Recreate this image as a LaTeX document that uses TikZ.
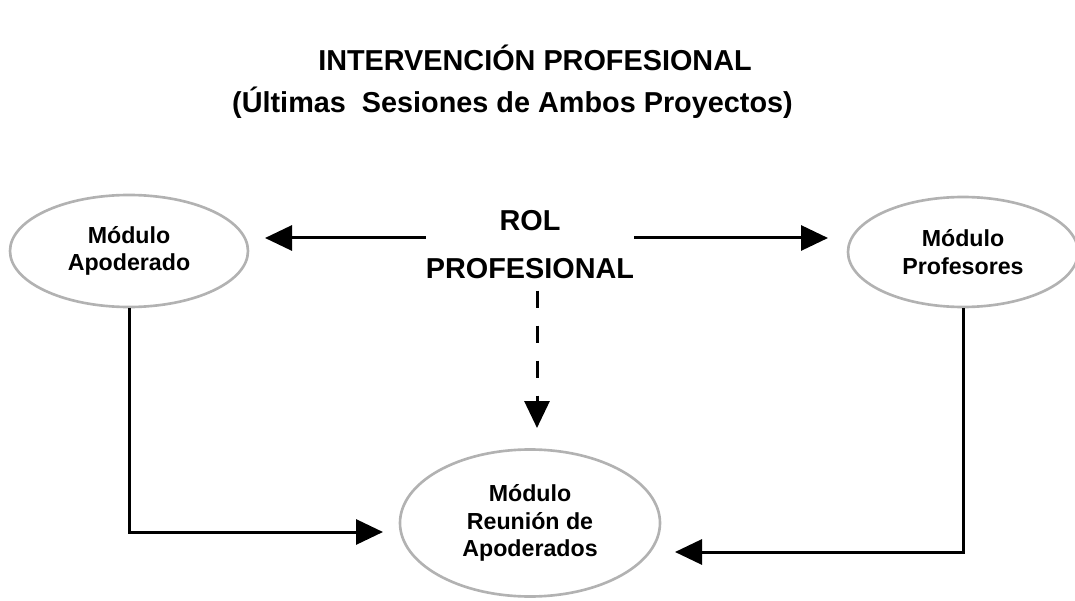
\documentclass[tikz,border=0pt]{standalone}
\usepackage{fontspec}
\setmainfont{Liberation Sans}
\usepackage{tikz}
\usetikzlibrary{positioning, shapes.geometric, arrows.meta, calc}

\begin{document}
\begin{tikzpicture}[
  >={Triangle[length=0.54cm, width=0.5cm]},
  every node/.style={font=\bfseries},
  modulo/.style={draw=gray!60, line width=1.5pt, ellipse, inner sep=0pt, align=center,
    font=\fontsize{13.2}{15.6}\selectfont\bfseries},
  flecha/.style={->, line width=0.06cm},
  punteada/.style={->, line width=0.06cm, dash pattern=on 0.34cm off 0.36cm}
]
\useasboundingbox (0,0) rectangle (21.5,12);

% Titulo
\node[font=\fontsize{16.4}{19}\selectfont\bfseries] (titulo) at (10.7, 10.84) {INTERVENCIÓN PROFESIONAL};
\node[font=\fontsize{16.4}{19}\selectfont\bfseries] (subtitulo) at (10.25, 9.94) {(Últimas\ \ Sesiones de Ambos Proyectos)};

% Modulos
\node[modulo, minimum width=4.76cm, minimum height=2.24cm] (apoderado) at (2.58, 6.98) {Módulo\\Apoderado};
\node[modulo, minimum width=4.6cm, minimum height=2.2cm] (profesores) at (19.26, 6.96) {Módulo\\Profesores};
\node[modulo, minimum width=5.2cm, minimum height=2.94cm] (reunion) at (10.6, 1.54) {Módulo\\Reunión de\\Apoderados};

% Rol profesional
\node[align=center, inner sep=0pt, font=\fontsize{16.4}{27.3}\selectfont\bfseries] (rol) at (10.6, 7.1) {ROL\\PROFESIONAL};

% Extremos libres
\coordinate (apoIn) at (5.3, 7.24);
\coordinate (profIn) at (16.56, 7.24);
\coordinate (rolOut) at (10.74, 3.44);
\coordinate (reuIzq) at (7.66, 1.36);
\coordinate (reuDer) at (13.5, 0.96);

% Flechas
\draw[flecha] (rol.west |- apoIn) -- (apoIn);
\draw[flecha] (rol.east |- profIn) -- (profIn);
\draw[punteada, shorten <=0.22cm] (rolOut |- rol.south) -- (rolOut);
\draw[flecha] (apoderado.south) |- (reuIzq);
\draw[flecha] (profesores.south) |- (reuDer);

\end{tikzpicture}
\end{document}
